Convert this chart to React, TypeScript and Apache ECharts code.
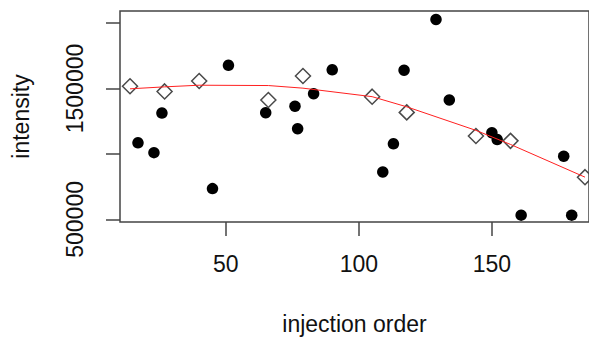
import React, { useEffect, useRef } from "react";
import * as echarts from "echarts";

// Samples (filled circles)
const sampleOrder = [17, 23, 26, 45, 51, 65, 76, 77, 83, 90, 109, 113, 117, 129, 134, 150, 152, 161, 177, 180];
const sampleIntensity = [1085000, 1010000, 1312500, 735000, 1677500, 1315000, 1365000, 1192500, 1460000, 1642500, 862500, 1077500, 1640000, 2027500, 1412500, 1162500, 1110000, 532500, 982500, 532500];

// QC samples (open diamonds)
const qcOrder = [14, 27, 40, 66, 79, 105, 118, 144, 157, 185];
const qcIntensity = [1517500, 1477500, 1557500, 1412500, 1595000, 1437500, 1317500, 1137500, 1100000, 822500];

// Fitted drift curve at QC positions (red line)
const qcFit = [1497500, 1512500, 1525000, 1522500, 1502500, 1437500, 1360000, 1180000, 1072500, 822500];

// Axis ticks and labels
const xTicks = [50, 100, 150];
const yTicks = [500000, 1000000, 1500000, 2000000];
const yLabels = [500000, 1500000];

const FONT = "'Liberation Sans', Arial, Helvetica, sans-serif";

export default function App() {
  const ref = useRef<HTMLDivElement>(null);
  useEffect(() => {
    if (!ref.current) return;
    const chart = echarts.init(ref.current, undefined, { renderer: "svg" });
    chart.setOption({
      animation: false,
      backgroundColor: "#ffffff",
      grid: {
        left: 120,
        top: 11,
        width: 470,
        height: 215,
        show: true,
        borderColor: "#444",
        borderWidth: 1.5,
        backgroundColor: "transparent",
      },
      xAxis: {
        type: "value",
        min: 10.24,
        max: 186.5,
        name: "injection order",
        nameLocation: "middle",
        nameGap: 90,
        nameTextStyle: { fontFamily: FONT, fontSize: 23, color: "#111" },
        axisLine: { show: false },
        splitLine: { show: false },
        axisTick: { show: true, length: 14, customValues: xTicks, lineStyle: { color: "#444", width: 1.5 } },
        axisLabel: {
          customValues: xTicks,
          margin: 30,
          fontFamily: FONT,
          fontSize: 23,
          color: "#111",
        },
      },
      yAxis: {
        type: "value",
        min: 480000,
        max: 2092000,
        name: "intensity",
        nameLocation: "middle",
        nameGap: 88,
        nameRotate: 90,
        nameTextStyle: { fontFamily: FONT, fontSize: 23, color: "#111" },
        axisLine: { show: false },
        splitLine: { show: false },
        axisTick: { show: true, length: 14, customValues: yTicks, lineStyle: { color: "#444", width: 1.5 } },
        axisLabel: {
          customValues: yLabels,
          rotate: 90,
          margin: 34,
          fontFamily: FONT,
          fontSize: 23,
          color: "#111",
          formatter: (v: number) => String(v),
        },
      },
      series: [
        {
          type: "scatter",
          data: sampleOrder.map((x, i) => [x, sampleIntensity[i]]),
          symbol: "circle",
          symbolSize: 11.5,
          itemStyle: { color: "#000", opacity: 1 },
          z: 2,
        },
        {
          type: "scatter",
          data: qcOrder.map((x, i) => [x, qcIntensity[i]]),
          symbol: "diamond",
          symbolSize: 15,
          itemStyle: { color: "rgba(0,0,0,0)", borderColor: "#4a4a4a", borderWidth: 1.5, opacity: 1 },
          z: 3,
        },
        {
          type: "line",
          data: qcOrder.map((x, i) => [x, qcFit[i]]),
          showSymbol: false,
          symbol: "none",
          lineStyle: { color: "#ff2020", width: 1 },
          z: 4,
        },
      ],
    });
    return () => chart.dispose();
  }, []);
  return (
    <div
      ref={ref}
      style={{ position: "absolute", left: 0, top: 0, width: 589, height: 340 }}
    />
  );
}
